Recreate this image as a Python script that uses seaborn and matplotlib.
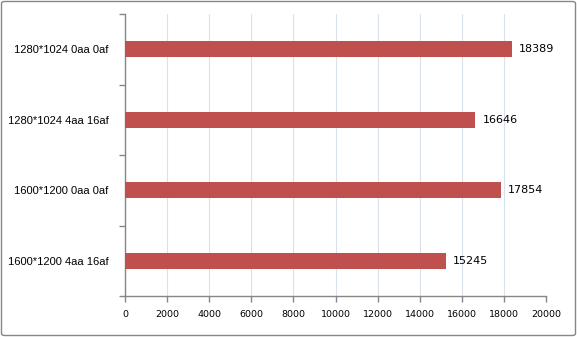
import matplotlib
matplotlib.use("Agg")
import matplotlib.pyplot as plt
import seaborn as sns
import pandas as pd
from matplotlib.patches import FancyBboxPatch
from matplotlib.ticker import FixedLocator

categories = ["1280*1024 0aa 0af", "1280*1024 4aa 16af", "1600*1200 0aa 0af", "1600*1200 4aa 16af"]
values = [18389, 16646, 17854, 15245]
x_ticks = [0, 2000, 4000, 6000, 8000, 10000, 12000, 14000, 16000, 18000, 20000]

sns.set_theme(style="white")
plt.rcParams['font.family'] = ['DejaVu Sans']

W, H = 577, 337
fig = plt.figure(figsize=(W / 100, H / 100), dpi=100)
ax = fig.add_axes([125 / W, (H - 296) / H, (546 - 125) / W, (296 - 14) / H])

df = pd.DataFrame({"cat": categories, "val": values})
sns.barplot(data=df, x="val", y="cat", orient="h", color="#C0504D", saturation=1,
            width=0.23, linewidth=0, ax=ax, zorder=3)

ax.set_xlim(0, 20000)
ax.set_ylim(len(categories) - 0.5, -0.5)
ax.set_xlabel("")
ax.set_ylabel("")
ax.set_xticks(x_ticks)
ax.set_xticklabels([str(t) for t in x_ticks], fontsize=6.8, color="black")
ax.xaxis.grid(True, color="#D9E1EC", linewidth=0.8, zorder=0)
ax.yaxis.grid(False)
ax.set_axisbelow(True)

ax.set_yticks(range(len(categories)))
ax.set_yticklabels(categories, fontsize=8, family="Liberation Sans", color="black")
ax.tick_params(axis="y", which="major", length=0, pad=12)
ax.yaxis.set_minor_locator(FixedLocator([-0.5, 0.5, 1.5, 2.5, 3.5]))
ax.tick_params(axis="y", which="minor", length=4, color="#868686", width=1, left=True)
ax.tick_params(axis="x", which="major", length=4, color="#868686", width=1, bottom=True, pad=6)

for s in ["top", "right"]:
    ax.spines[s].set_visible(False)
for s in ["left", "bottom"]:
    ax.spines[s].set_color("#868686")
    ax.spines[s].set_linewidth(1)

for i, v in enumerate(values):
    ax.text(v + 330, i, str(v), va="center", ha="left", fontsize=8, color="black")

border = FancyBboxPatch((1.5 / W, 1.5 / H), (W - 3) / W, (H - 3) / H,
                        boxstyle="round,pad=0,rounding_size=0.006",
                        transform=fig.transFigure, fill=False,
                        edgecolor="#868686", linewidth=1)
fig.patches.append(border)

fig.savefig("out.png", dpi=100)
